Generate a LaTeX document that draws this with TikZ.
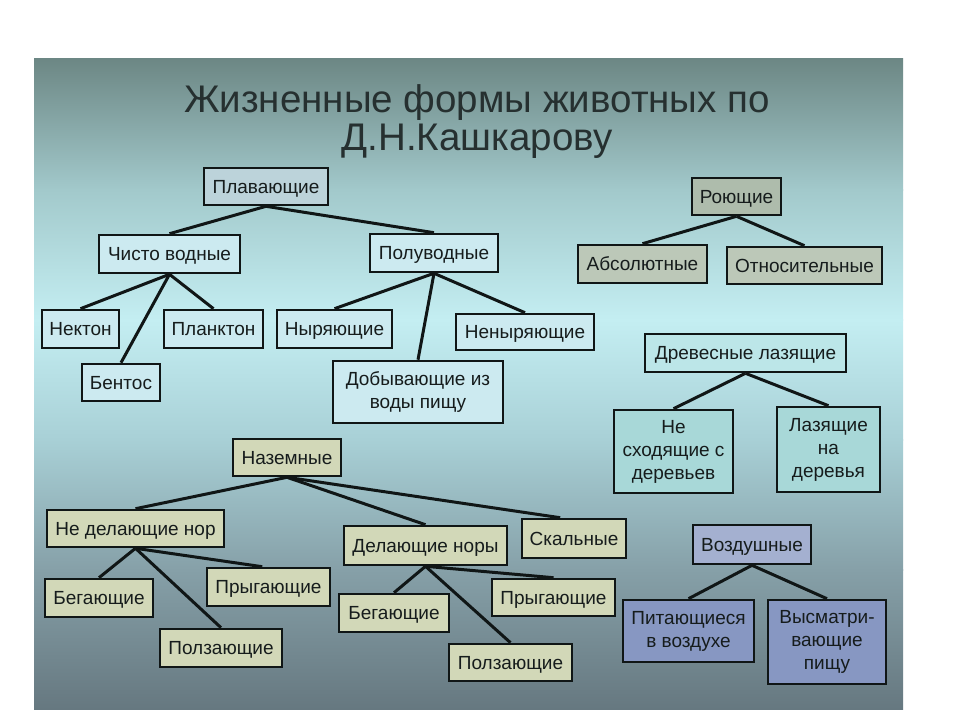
\documentclass[tikz,border=0pt]{standalone}
\usepackage{fontspec}
\setmainfont{Liberation Sans}
\usetikzlibrary{calc}
\definecolor{bgA}{HTML}{6C8784}
\definecolor{bgB}{HTML}{A2C9CB}
\definecolor{bgC}{HTML}{C4EEF2}
\definecolor{bgD}{HTML}{A8D0D6}
\definecolor{bgE}{HTML}{86A0A8}
\definecolor{bgF}{HTML}{667880}
\definecolor{txt}{HTML}{161C1C}
\definecolor{ttl}{HTML}{263030}
\definecolor{edge}{HTML}{101616}
\definecolor{fPlav}{HTML}{BCD3DA}
\definecolor{fWater}{HTML}{CCEAF0}
\definecolor{fRoyA}{HTML}{AEBCAC}
\definecolor{fRoy}{HTML}{BCC8B8}
\definecolor{fDrevA}{HTML}{BCE6E8}
\definecolor{fDrev}{HTML}{A8D8D8}
\definecolor{fLand}{HTML}{D2D8B8}
\definecolor{fAirA}{HTML}{A4B0D0}
\definecolor{fAir}{HTML}{8797C2}
\tikzset{
  box/.style={draw=edge, line width=2.6pt, inner sep=0pt, align=center,
    text=txt, font=\fontsize{19}{23}\selectfont},
  one/.style={box, text height=13.6pt, text depth=0pt},
  multi/.style={box, yshift=-2pt},
  conn/.style={draw=edge, line width=3pt},
  ttlnode/.style={text=ttl, font=\fontsize{38.5}{42}\selectfont, inner sep=0pt, anchor=base}
}
\begin{document}
\begin{tikzpicture}[x=1pt,y=-1pt]
\useasboundingbox (0,0) rectangle (960,720);
\fill[white] (0,0) rectangle (960,720);
% slide background
\fill[top color=bgA, bottom color=bgB] (34,58) rectangle (903,190);
\fill[top color=bgB, bottom color=bgC] (34,189.5) rectangle (903,320);
\fill[top color=bgC, bottom color=bgD] (34,319.5) rectangle (903,440);
\fill[top color=bgD, bottom color=bgE] (34,439.5) rectangle (903,570);
\fill[top color=bgE, bottom color=bgF] (34,569.5) rectangle (903,709);
% title
\node[ttlnode] (title1) at (477,112) {Жизненные формы животных по};
\node[ttlnode] (title2) at (477,150) {Д.Н.Кашкарову};
% swimming
\node[one, fill=fPlav, minimum width=124, minimum height=37] (plav) at (266,186.5) {Плавающие};
\node[one, fill=fWater, minimum width=141, minimum height=38] (chist) at (169.5,254) {Чисто водные};
\node[one, fill=fWater, minimum width=128, minimum height=38] (polu) at (434,253) {Полуводные};
\node[one, fill=fWater, minimum width=77, minimum height=38] (nekt) at (80.5,329) {Нектон};
\node[one, fill=fWater, minimum width=99, minimum height=38] (plank) at (213.5,329) {Планктон};
\node[one, fill=fWater, minimum width=115, minimum height=38] (nyr) at (334.5,329) {Ныряющие};
\node[one, fill=fWater, minimum width=138, minimum height=36] (nenyr) at (525,332) {Неныряющие};
\node[one, fill=fWater, minimum width=78, minimum height=37] (bent) at (121,382.5) {Бентос};
\node[box, fill=fWater, minimum width=170, minimum height=62] (dob) at (418,392) {Добывающие из\\воды пищу};
% burrowing
\node[one, fill=fRoyA, minimum width=89, minimum height=37] (roy) at (736.5,196.5) {Роющие};
\node[one, fill=fRoy, minimum width=129, minimum height=38] (abs) at (642.5,264) {Абсолютные};
\node[one, fill=fRoy, minimum width=155, minimum height=37] (otn) at (804.5,265.5) {Относительные};
% arboreal
\node[one, fill=fDrevA, minimum width=201, minimum height=38] (drev) at (745.5,353) {Древесные лазящие};
\node[box, fill=fDrev, minimum width=119, minimum height=83] (nesh) at (673.5,451.5) {Не\\сходящие с\\деревьев};
\node[box, fill=fDrev, minimum width=103, minimum height=85] (laz) at (828.5,449.5) {Лазящие\\на\\деревья};
% terrestrial
\node[one, fill=fLand, minimum width=108, minimum height=37] (naz) at (287,457.5) {Наземные};
\node[one, fill=fLand, minimum width=177, minimum height=37] (nedel) at (135.5,528.5) {Не делающие нор};
\node[one, fill=fLand, minimum width=108, minimum height=38] (begA) at (99,598) {Бегающие};
\node[one, fill=fLand, minimum width=123, minimum height=38] (prygA) at (268.5,587) {Прыгающие};
\node[one, fill=fLand, minimum width=122, minimum height=38] (polzA) at (221,648) {Ползающие};
\node[one, fill=fLand, minimum width=163, minimum height=39] (del) at (425.5,545.5) {Делающие норы};
\node[one, fill=fLand, minimum width=104, minimum height=39] (skal) at (574,538.5) {Скальные};
\node[one, fill=fLand, minimum width=110, minimum height=38] (begB) at (394,613) {Бегающие};
\node[one, fill=fLand, minimum width=123, minimum height=37] (prygB) at (553.5,597.5) {Прыгающие};
\node[one, fill=fLand, minimum width=123, minimum height=37] (polzB) at (510.5,662.5) {Ползающие};
% aerial
\node[one, fill=fAirA, minimum width=118, minimum height=39] (vozd) at (752,544.5) {Воздушные};
\node[box, fill=fAir, minimum width=131, minimum height=62] (pit) at (688.5,631) {Питающиеся\\в воздухе};
\node[box, fill=fAir, minimum width=118, minimum height=84] (vys) at (827,642) {Высматри-\\вающие\\пищу};
% connectors
\draw[conn] (plav.south) -- (chist.north);
\draw[conn] (plav.south) -- (polu.north);
\draw[conn] (chist.south) -- (nekt.north);
\draw[conn] (chist.south) -- (plank.north);
\draw[conn] (chist.south) -- (bent.north);
\draw[conn] (polu.south) -- (nyr.north);
\draw[conn] (polu.south) -- (dob.north);
\draw[conn] (polu.south) -- (nenyr.north);
\draw[conn] (roy.south) -- (abs.north);
\draw[conn] (roy.south) -- (otn.north);
\draw[conn] (drev.south) -- (nesh.north);
\draw[conn] (drev.south) -- (laz.north);
\draw[conn] (naz.south) -- (nedel.north);
\draw[conn] (naz.south) -- (del.north);
\draw[conn] (naz.south) -- ($(skal.north west)!0.37!(skal.north east)$);
\draw[conn] (nedel.south) -- (begA.north);
\draw[conn] (nedel.south) -- (polzA.north);
\draw[conn] (nedel.south) -- ($(prygA.north west)!0.45!(prygA.north east)$);
\draw[conn] (del.south) -- (begB.north);
\draw[conn] (del.south) -- (polzB.north);
\draw[conn] (del.south) -- (prygB.north);
\draw[conn] (vozd.south) -- (pit.north);
\draw[conn] (vozd.south) -- (vys.north);
\end{tikzpicture}
\end{document}
